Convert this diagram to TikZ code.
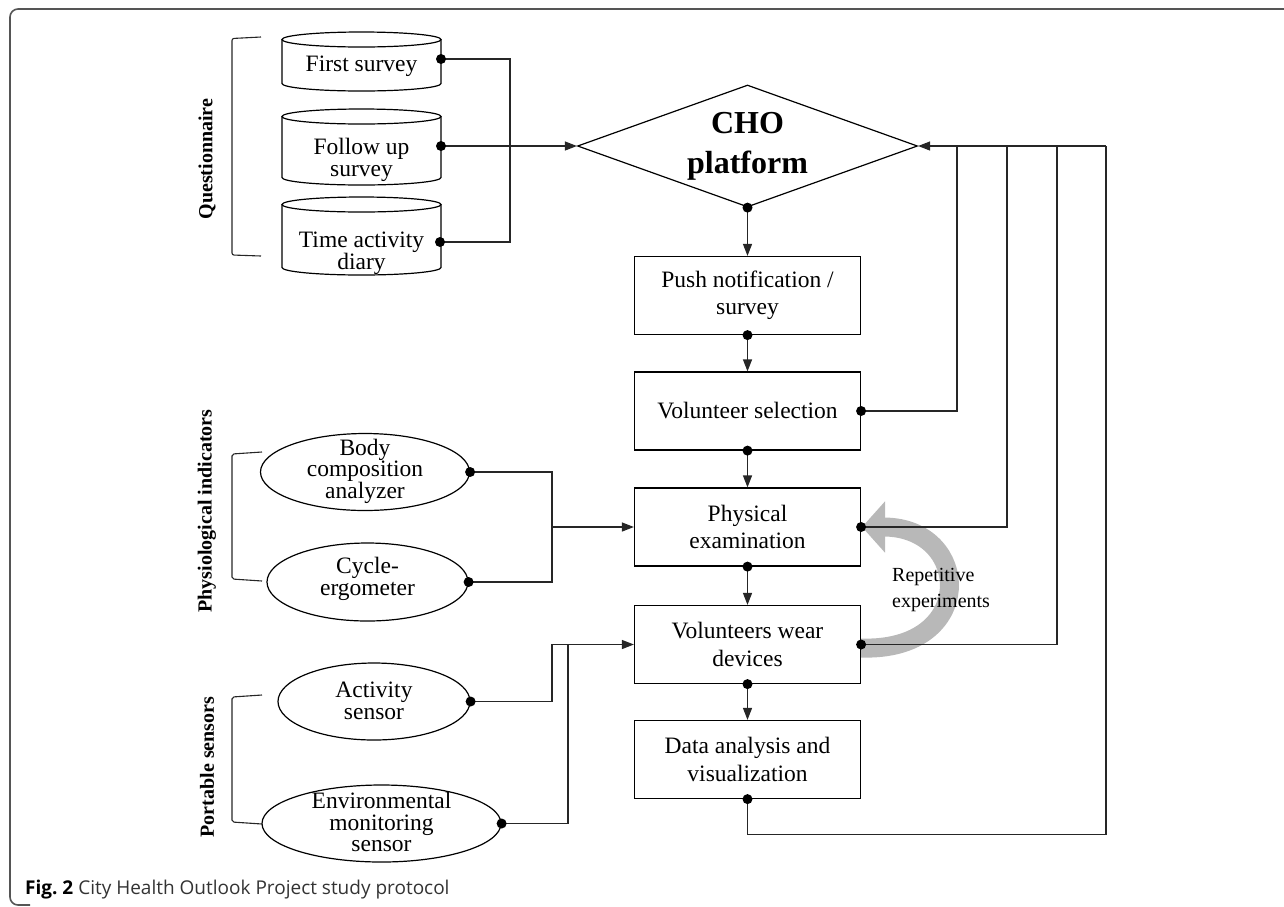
\documentclass[tikz,border=0pt]{standalone}
\usepackage{fontspec}
\setmainfont{Liberation Serif}
\newfontfamily\capfont{Open Sans}
\usetikzlibrary{shapes.geometric,arrows.meta}
\definecolor{bandgray}{RGB}{184,184,184}
\definecolor{framegray}{RGB}{85,85,85}
\newcommand\drawcyl[2]{%
  \draw[line width=1.2pt] (282,#1) -- (282,#2) arc[start angle=180, end angle=360, x radius=79.5pt, y radius=7.5pt] -- (441,#1);
  \draw[line width=1.2pt] (361.5,#1) ellipse [x radius=79.5pt, y radius=7.5pt];
}
\begin{document}
\begin{tikzpicture}[x=1pt,y=-1pt,
  conn/.style={line width=1.2pt, draw=black!85},
  arr/.style={conn, -{Triangle[length=12pt,width=9pt]}},
  box/.style={draw, line width=1.2pt, minimum width=226pt, minimum height=78pt, inner sep=0pt, align=center, font=\fontsize{23.5}{27.5}\selectfont},
  txt/.style={inner sep=0pt, align=center, font=\fontsize{23.5}{21.5}\selectfont},
  ell/.style={ellipse, draw, line width=1.2pt, inner sep=0pt},
  grp/.style={rotate=90, inner sep=0pt, font=\fontsize{20}{24}\selectfont\bfseries},
  brk/.style={line width=1.1pt, draw=black!85, rounded corners=2pt},
  dot/.style={fill=black}
]
\useasboundingbox (0,0) rectangle (1284,906);

% frame
\draw[framegray, line width=1.6pt, rounded corners=8pt] (1292,9) -- (10,9) -- (10,905) -- (30,905);

% caption
\node[anchor=base west, inner sep=0pt, font=\capfont\fontsize{19}{21}\selectfont, text=black!80] (cap) at (25,894) {\textbf{\color{black}Fig.~2} City Health Outlook Project study protocol};

% grey repetition arrow
\coordinate (gs) at (861,648);
\coordinate (ge) at (862,527);
\draw[bandgray, line width=19pt, -{Triangle[length=23pt,width=50pt]}] (gs) .. controls (978,652) and (972,527) .. (ge);

% questionnaire cylinders
\drawcyl{39.5}{83.5}
\drawcyl{116.5}{177.5}
\drawcyl{204.5}{267.5}
\node[txt] (c1) at (361.5,66) {First survey};
\node[txt] (c2) at (361.5,160) {Follow up\\survey};
\node[txt] (c3) at (361.5,253) {Time activity\\diary};
\coordinate (c1e) at (441,59);
\coordinate (c2e) at (441,146);
\coordinate (c3e) at (440,242);

% diamond
\node[diamond, draw, line width=1.2pt, minimum width=340pt, minimum height=122pt, inner sep=0pt, aspect=2.79, align=center, font=\fontsize{32}{40}\selectfont\bfseries] (cho) at (747.5,146) {CHO\\platform};

% main boxes
\node[box] (push) at (747.5,295.5) {Push notification /\\survey};
\node[box] (volsel) at (747.5,411) {Volunteer selection};
\node[box] (phys) at (747.5,527) {Physical\\examination};
\node[box] (wear) at (747.5,644.5) {Volunteers wear\\devices};
\node[box] (data) at (747.5,759.5) {Data analysis and\\visualization};

% ellipses
\node[ell, minimum width=209pt, minimum height=77pt] (body) at (365,472) {};
\node[txt] (bodyt) at (365,471) {Body\\composition\\analyzer};
\node[ell, minimum width=201pt, minimum height=78pt] (cyc) at (367.5,582) {};
\node[txt] (cyct) at (367.5,579) {Cycle-\\ergometer};
\node[ell, minimum width=192pt, minimum height=77pt] (act) at (374,701.5) {};
\node[txt] (actt) at (374,701) {Activity\\sensor};
\node[ell, minimum width=239pt, minimum height=77pt] (env) at (381.5,823.5) {};
\node[txt] (envt) at (381.5,822) {Environmental\\monitoring\\sensor};

% brackets and group labels
\draw[brk] (261,37) -- (232,38.5) -- (232,255) -- (261,256);
\draw[brk] (262,452) -- (232,454) -- (232,579) -- (262,581);
\draw[brk] (262,695) -- (232,697) -- (232,822) -- (262,824);
\node[grp] (qlab) at (207,159) {Questionnaire};
\node[grp] (plab) at (207,511) {Physiological indicators};
\node[grp] (slab) at (207,767) {Portable sensors};

% questionnaire connectors
\coordinate (jq) at (510,146);
\draw[conn] (c1e) -| (jq) |- (c3e);
\draw[arr] (c2e) -- (cho.west);

% main chain
\draw[arr] (cho.south) -- (push.north);
\draw[arr] (push.south) -- (volsel.north);
\draw[arr] (volsel.south) -- (phys.north);
\draw[arr] (phys.south) -- (wear.north);
\draw[arr] (wear.south) -- (data.north);

% feedback lines
\coordinate (r1) at (957,146);
\coordinate (r2) at (1007,146);
\coordinate (r3) at (1057,146);
\coordinate (r4) at (1106,146);
\draw[conn] (volsel.east) -| (r1);
\draw[conn] (phys.east) -| (r2);
\draw[conn] (wear.east) -| (r3);
\draw[conn] (data.south) -- ++(0,35) -| (r4);
\draw[arr] (r4) -- (cho.east);

% physiological connectors
\coordinate (jp) at (552,527);
\draw[conn] (body.east) -| (jp) |- (cyc.east);
\draw[arr] (jp) -- (phys.west);

% portable connectors
\coordinate (ja) at (552,644.5);
\coordinate (jb) at (568,644.5);
\draw[arr] (act.east) -| (ja) -- (wear.west);
\draw[conn] (env.east) -| (jb);

% dots
\foreach \p in {c1e,c2e,c3e,cho.south,push.south,volsel.south,volsel.east,phys.south,phys.east,wear.south,wear.east,data.south,body.east,cyc.east,act.east,env.east}
  \fill[dot] (\p) circle (5pt);

% repetition label
\node[anchor=west, align=left, inner sep=0pt, font=\fontsize{20}{26}\selectfont] (rep) at (892,590) {Repetitive\\experiments};
\end{tikzpicture}
\end{document}
